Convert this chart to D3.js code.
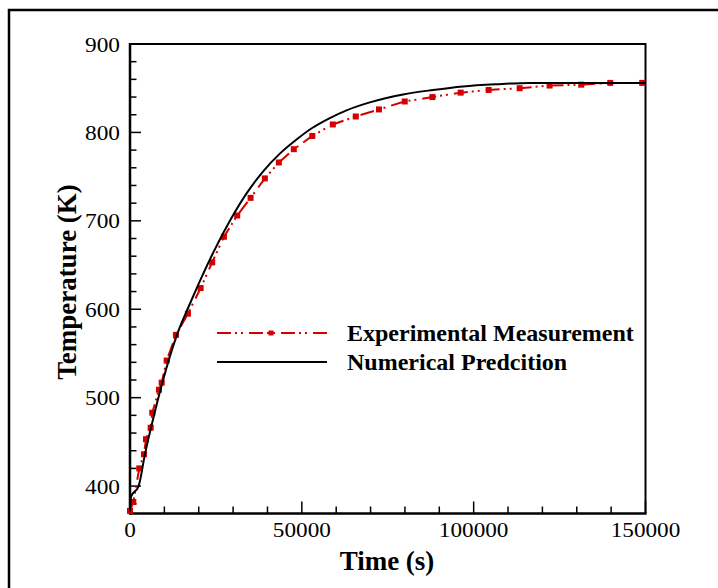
<!DOCTYPE html>
<html>
<head>
<meta charset="utf-8">
<script src="https://cdn.jsdelivr.net/npm/d3@7"></script>
<style>
  html, body { margin: 0; padding: 0; background: #fff; }
  svg { display: block; }
</style>
</head>
<body>
<svg id="chart" width="718" height="588"></svg>
<script>
// ---- data ----
const expTime = [0, 960, 2700, 4070, 4650, 6020, 6480, 8430, 9220, 10670, 13370, 16860, 20550, 23920, 27330, 31190, 35090, 39240, 43310, 47670, 53050, 59010, 65700, 72440, 79940, 88000, 96220, 104360, 113370, 122090, 131300, 139740, 149040];
const expTemp = [372, 382, 420, 436, 453, 466, 483, 509, 517, 542, 571, 595, 624, 653, 682, 706, 726, 748, 766, 781, 796, 809, 818, 826, 835, 840, 845, 848, 850, 853, 854, 856, 856];
const numTime = [0, 300, 2500, 4400, 6800, 9220, 11630, 14040, 16950, 19770, 24210, 29070, 33920, 38750, 43600, 48460, 53000, 58000, 63000, 69770, 79450, 88170, 96890, 106600, 116280, 130000, 150000];
const numTemp = [371, 388, 400, 437, 477, 514, 547, 575, 602, 627, 664, 700, 731, 756, 776, 792, 805, 816, 825, 834, 843, 848, 852, 854.5, 856, 856, 856];
const xTicks = [0, 50000, 100000, 150000];
const yTicks = [400, 500, 600, 700, 800, 900];
const seriesNames = ["Experimental Measurement", "Numerical Predcition"];
const xTitle = "Time (s)";
const yTitle = "Temperature (K)";

// ---- layout ----
const svg = d3.select("#chart");
const L = 130, R = 645.5, T = 44, B = 513.5;
const x = d3.scaleLinear().domain([0, 150000]).range([L, R]);
const y = d3.scaleLinear().domain([369, 900]).range([B, T]);
const red = "#d40000";
const font = "'Liberation Serif', 'Times New Roman', serif";

// outer frame
svg.append("rect").attr("x", 9).attr("y", 10).attr("width", 760).attr("height", 640)
  .attr("fill", "none").attr("stroke", "#000").attr("stroke-width", 2.5);

// plot box (top/right)
svg.append("path").attr("d", `M${L},${T}H${R}V${B}`).attr("fill", "none")
  .attr("stroke", "#000").attr("stroke-width", 2);

// x axis
const xMinor = d3.range(0, 150001, 10000);
const gx = svg.append("g");
gx.selectAll("line.t").data(xMinor).join("line")
  .attr("x1", d => x(d)).attr("x2", d => x(d))
  .attr("y1", B).attr("y2", d => B - (d % 50000 === 0 ? 12 : 7))
  .attr("stroke", "#000").attr("stroke-width", 1.5);
gx.selectAll("text").data(xTicks).join("text")
  .attr("x", d => x(d)).attr("y", 537)
  .attr("text-anchor", "middle")
  .attr("font-family", font).attr("font-size", 22)
  .attr("textLength", d => String(d).length * 11.6)
  .attr("lengthAdjust", "spacingAndGlyphs")
  .text(d => d);
gx.append("line").attr("x1", L - 1).attr("x2", R + 1).attr("y1", B).attr("y2", B)
  .attr("stroke", "#000").attr("stroke-width", 2.5);

// y axis
const yMinor = d3.range(380, 901, 20);
const gy = svg.append("g");
gy.selectAll("line.t").data(yMinor).join("line")
  .attr("y1", d => y(d)).attr("y2", d => y(d))
  .attr("x1", L).attr("x2", d => L + (d % 100 === 0 ? 11 : 6.5))
  .attr("stroke", "#000").attr("stroke-width", 1.5);
gy.selectAll("text").data(yTicks).join("text")
  .attr("x", 120).attr("y", d => y(d) + 7.5)
  .attr("text-anchor", "end")
  .attr("font-family", font).attr("font-size", 22)
  .attr("textLength", 35).attr("lengthAdjust", "spacingAndGlyphs")
  .text(d => d);
gy.append("line").attr("x1", L).attr("x2", L).attr("y1", T - 1).attr("y2", B + 1)
  .attr("stroke", "#000").attr("stroke-width", 2.5);

// axis titles
svg.append("text").attr("x", 387).attr("y", 570).attr("text-anchor", "middle")
  .attr("font-family", font).attr("font-size", 27).attr("font-weight", "bold")
  .text(xTitle);
svg.append("text").attr("transform", "translate(76,282) rotate(-90)")
  .attr("text-anchor", "middle")
  .attr("font-family", font).attr("font-size", 27).attr("font-weight", "bold")
  .text(yTitle);

// series
const expData = expTime.map((t, i) => ({ t, v: expTemp[i] }));
const numData = numTime.map((t, i) => ({ t, v: numTemp[i] }));
const dash = "14,4,2,4,2,6";

svg.append("path").datum(expData)
  .attr("d", d3.line().x(d => x(d.t)).y(d => y(d.v)))
  .attr("fill", "none").attr("stroke", red).attr("stroke-width", 2)
  .attr("stroke-dasharray", dash);
svg.selectAll("rect.m").data(expData).join("rect")
  .attr("class", "m")
  .attr("x", d => x(d.t) - 3).attr("y", d => y(d.v) - 3)
  .attr("width", 6).attr("height", 6).attr("fill", red);

svg.append("path").datum(numData)
  .attr("d", d3.line().curve(d3.curveMonotoneX).x(d => x(d.t)).y(d => y(d.v)))
  .attr("fill", "none").attr("stroke", "#000").attr("stroke-width", 2);

// legend
const lg = svg.append("g");
lg.append("line").attr("x1", 217).attr("x2", 327).attr("y1", 333).attr("y2", 333)
  .attr("stroke", red).attr("stroke-width", 2).attr("stroke-dasharray", dash);
lg.append("rect").attr("x", 268.5).attr("y", 330.5).attr("width", 5).attr("height", 5).attr("fill", red);
lg.append("line").attr("x1", 217).attr("x2", 327).attr("y1", 362).attr("y2", 362)
  .attr("stroke", "#000").attr("stroke-width", 2);
lg.append("text").attr("x", 347).attr("y", 341).attr("font-family", font)
  .attr("font-size", 24).attr("font-weight", "bold").text(seriesNames[0]);
lg.append("text").attr("x", 347).attr("y", 370).attr("font-family", font)
  .attr("font-size", 24).attr("font-weight", "bold").text(seriesNames[1]);
</script>
</body>
</html>
